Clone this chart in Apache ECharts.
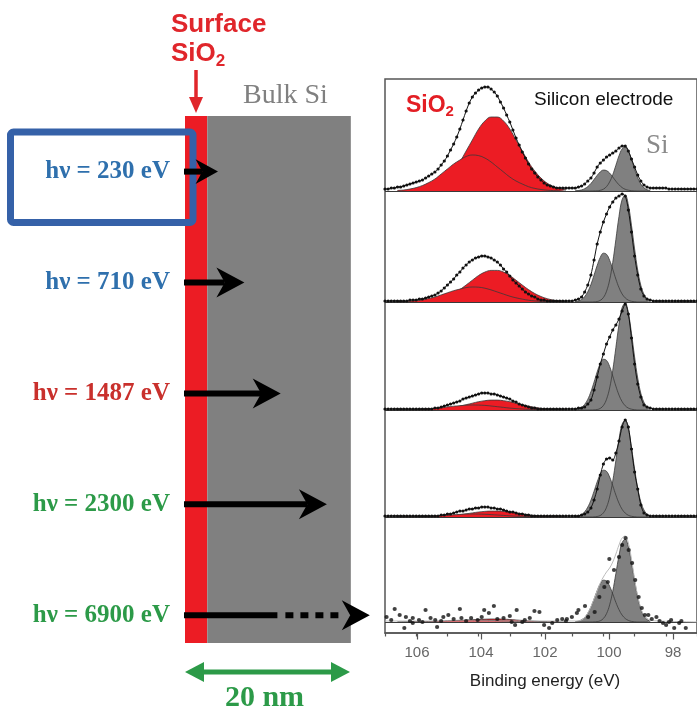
<!DOCTYPE html>
<html><head><meta charset="utf-8">
<script src="https://cdn.jsdelivr.net/npm/echarts@6/dist/echarts.min.js"></script>
<style>html,body{margin:0;padding:0;background:#fff}#c{width:697px;height:715px}</style>
</head><body><div id="c"></div>
<script>
// ---------- schematic data ----------
const photonEnergies = ['230', '710', '1487', '2300', '6900'];
const labelColors = ['#2f70ad', '#2f70ad', '#c9302c', '#2c9a48', '#2c9a48'];
const probeDepthNm = [4.0, 7.2, 11.6, 17.2, 22.4];
const solidDepthNm = [4.0, 7.2, 11.6, 17.2, 11.2];
const layerNames = ['SiO2', 'Bulk Si'];
const layerFromNm = [0, 2.7];
const layerToNm = [2.7, 20.1];
const layerColors = ['#ec1c24', '#808080'];
const scaleBarNm = [0, 20];

// ---------- spectra data (binding energy eV, intensity a.u.) ----------
const eEnv = [107.0,106.9,106.8,106.7,106.6,106.5,106.4,106.3,106.2,106.1,106.0,105.9,105.8,105.7,105.6,105.5,105.4,105.3,105.2,105.1,105.0,104.9,104.8,104.7,104.6,104.5,104.4,104.3,104.2,104.1,104.0,103.9,103.8,103.7,103.6,103.5,103.4,103.3,103.2,103.1,103.0,102.9,102.8,102.7,102.6,102.5,102.4,102.3,102.2,102.1,102.0,101.9,101.8,101.7,101.6,101.5,101.4,101.3,101.2,101.1,101.0,100.9,100.8,100.7,100.6,100.5,100.4,100.3,100.2,100.1,100.0,99.9,99.8,99.7,99.6,99.5,99.4,99.3,99.2,99.1,99.0,98.9,98.8,98.7,98.6,98.5,98.4,98.3,98.2,98.1,98.0,97.9,97.8,97.7,97.6,97.5,97.4,97.3,97.2,97.1,97.0];
const env230 = [2,2,3,3,4,4,5,6,7,8,9, 10,11,13,15,17,19,22,26,30,35, 41,47,54,62,71,80,88,94,98,101, 103,104,104,102,99,95,89,83,76,69, 61,53,46,39,33,27,22,18,14,11, 8,6,5,4,3,3,3,3,3,3, 3,4,5,7,10,13,18,24,28,31, 34,36,38,40,43,45,45,40,32,24, 16,10,6,4,3,3,3,3,3,3, 2,2,2,2,2,2,2,2,2,2];
const env710 = [1,1,1,1,1,1,1,1,2,2,2, 3,3,4,5,6,7,9,11,14,17, 20,23,27,30,34,37,40,42,44,45, 46,46,45,44,42,40,37,33,30,26, 22,19,16,13,10,8,6,5,3,2, 2,1,1,1,1,1,1,1,1,1, 2,3,5,10,17,27,42,58,70,80, 88,95,100,104,106,108,106,92,70,46, 27,13,6,3,2,1,1,1,1,1, 1,1,1,1,1,1,1,1,1,1];
const env1487 = [1,1,1,1,1,1,1,1,1,1,1, 1,1,1,1,1,2,2,3,4,5, 6,7,8,9,11,12,13,14,15,16, 17,17,17,16,16,15,14,13,12,11, 9,8,6,5,4,3,2,2,1,1, 1,1,1,1,1,1,1,1,1,1, 1,2,2,3,6,10,20,33,46,56, 66,73,80,85,91,99,106,96,72,46, 26,13,5,3,2,1,1,1,1,1, 1,1,1,1,1,1,1,1,1,1];
const env2300 = [1,1,1,1,1,1,1,1,1,1,1, 1,1,1,1,1,1,1,2,2,3, 3,4,5,6,6,7,8,8,9,9, 10,10,10,9,9,8,8,7,6,5, 5,4,3,3,2,2,1,1,1,1, 1,1,1,1,1,1,1,1,1,1, 1,1,2,3,5,9,17,28,42,53, 58,59,57,64,76,90,97,90,68,45, 28,12,4,2,1,1,1,1,1,1, 1,1,1,1,1,1,1,1,1,1];

const eSiO2 = [106.6,106.4,106.2,106.0,105.8,105.6,105.4,105.2,105.0,104.8,104.6,104.4,104.2,104.0,103.8,103.6,103.4,103.2,103.0,102.8,102.6,102.4,102.2,102.0,101.8,101.6,101.4,101.2];
const sio2Main230 = [0,0.1,0.3,0.6,1.2,2.4,4.5,7.8,13,20,29,40,51,62,70,74,74,70,62,51,40,29,20,13,7.8,4.5,2.4,1.2];
const sio2Side230 = [0.6,1,2,3.4,5.5,8.4,12,17,22,27,31,34.5,36,35.4,33,29,24,19,14,10,7,4.3,2.6,1.5,0.8,0.4,0.2,0];
const sio2Main710 = [0,0,0.1,0.3,0.5,1,1.9,3.3,5.5,8.5,12.4,17,21.8,26.5,29.9,31.6,31.6,29.9,26.5,21.8,17,12.4,8.5,5.5,3.3,1.9,1,0.5];
const sio2Side710 = [0.3,0.4,0.8,1.4,2.3,3.5,5,7.1,9.2,11.3,12.9,14.4,15,14.8,13.8,12.1,10,7.9,5.8,4.2,2.9,1.8,1.1,0.6,0.3,0.2,0.1,0];
const sio2Main1487 = [0,0,0,0.1,0.2,0.3,0.6,1,1.7,2.7,3.9,5.3,6.8,8.3,9.3,9.9,9.9,9.3,8.3,6.8,5.3,3.9,2.7,1.7,1,0.6,0.3,0.2];
const sio2Side1487 = [0.1,0.1,0.3,0.5,0.8,1.2,1.7,2.4,3.1,3.8,4.3,4.8,5,4.9,4.6,4,3.3,2.6,1.9,1.4,1,0.6,0.4,0.2,0.1,0.1,0,0];
const sio2Main2300 = [0,0,0,0,0.1,0.2,0.4,0.6,1,1.6,2.3,3.2,4.1,5,5.6,5.9,5.9,5.6,5,4.1,3.2,2.3,1.6,1,0.6,0.4,0.2,0.1];
const sio2Side2300 = [0,0.1,0.2,0.3,0.5,0.7,1,1.4,1.8,2.2,2.6,2.9,3,2.9,2.7,2.4,2,1.6,1.2,0.8,0.6,0.4,0.2,0.1,0.1,0,0,0];
const sio2Main6900 = [0,0,0,0,0,0.1,0.2,0.3,0.5,0.8,1.2,1.6,2,2.5,2.8,3,3,2.8,2.5,2,1.6,1.2,0.8,0.5,0.3,0.2,0.1,0];
const sio2Side6900 = [0,0.1,0.1,0.2,0.3,0.5,0.7,0.9,1.2,1.5,1.7,1.9,2,1.9,1.8,1.6,1.3,1,0.8,0.6,0.4,0.2,0.1,0.1,0];

const eSi = [100.9,100.8,100.7,100.6,100.5,100.4,100.3,100.2,100.1,100.0,99.9,99.8,99.7,99.6,99.5,99.4,99.3,99.2,99.1,99.0,98.9,98.8,98.7,98.6,98.5];
const siHigh230 = [0.2,0.5,1.1,2.3,4.4,7.5,11.5,15.6,19.1,20.9,20.4,17.9,14,9.8,6.2,3.4,1.7,0.8,0.3,0.1,0,0,0,0,0];
const siLow230 = [0,0,0,0,0,0,0.1,0.2,0.7,1.8,4.4,9.1,16.3,25.7,35.2,42.1,43.9,39.9,31.5,21.8,13.1,6.9,3.2,1.3,0.4];
const siHigh710 = [0.4,1.1,2.5,5.4,10.3,17.5,26.8,36.5,44.6,48.8,47.7,41.7,32.7,22.9,14.4,8,4.1,1.8,0.7,0.3,0,0,0,0,0];
const siLow710 = [0,0,0,0,0,0,0.1,0.5,1.6,4.5,10.7,22,39.7,62.5,85.6,102.4,106.7,96.9,76.7,53.1,31.9,16.7,7.7,3.1,1.1];
const siHigh1487 = [0.4,1.1,2.7,5.6,10.7,18.3,27.8,38,46.4,50.7,49.6,43.5,34,23.8,14.9,8.4,4.2,1.9,0.8,0.3,0,0,0,0,0];
const siLow1487 = [0,0,0,0,0,0,0.1,0.5,1.6,4.5,10.7,22,39.7,62.5,85.6,102.4,106.7,96.9,76.7,53.1,31.9,16.7,7.7,3.1,1.1];
const siHigh2300 = [0.4,1,2.4,5.2,9.9,16.8,25.7,35,42.8,46.8,45.7,40,31.3,21.9,13.8,7.7,3.9,1.7,0.7,0.3,0,0,0,0,0];
const siLow2300 = [0,0,0,0,0,0,0.1,0.5,1.5,4.1,9.7,20,36,56.6,77.6,92.8,96.7,87.9,69.5,48.1,28.9,15.1,7,2.8,1];
const siHigh6900 = [0.3,0.9,2.2,4.6,8.8,15,22.9,31.3,38.2,41.8,40.9,35.8,28,19.6,12.3,6.9,3.5,1.6,0.6,0.2,0,0,0,0,0];
const siLow6900 = [0,0,0,0,0,0,0.1,0.4,1.2,3.5,8.3,17.1,30.8,48.5,66.4,79.4,82.8,75.2,59.5,41.2,24.7,12.9,6,2.4,0.8];

// 6900 eV: noisy measured points and fit envelope
const pts6900E = [106.95,106.8,106.69,106.53,106.38,106.33,106.2,106.11,106.11,105.91,105.8,105.7,105.54,105.39,105.33,105.2,105.13,104.97,104.8,104.6,104.55,104.4,104.24,104.03,103.9,103.82,103.67,103.51,103.4,103.2,103.0,102.94,102.83,102.78,102.6,102.52,102.36,102.21,102.05,101.9,101.74,101.64,101.48,101.32,101.2,101.17,101.01,100.85,100.8,100.59,100.49,100.28,100.13,99.97,99.86,99.81,99.66,99.5,99.4,99.29,99.19,99.08,98.98,98.87,98.77,98.67,98.56,98.45,98.3,98.2,98.09,97.99,97.9,97.83,97.73,97.57,97.5,97.36];
const pts6900I = [5,2,13,7,-6,5,1,4,-1,2,0,12,4,2,-5,1,5,7,3,13,4,1,4,2,5,12,9,16,3,4,6,0,-3,12,0,2,4,11,10,-3,-6,-1,2,3,1,3,5,9,12,16,5,10,25,35,40,63,52,65,77,84,72,59,42,25,14,7,7,3,5,1,-1,-3,0,2,-6,-1,1,-6];
const fit6900E = [107.0,101.4,100.9,100.7,100.5,100.3,100.1,100.0,99.9,99.8,99.7,99.6,99.5,99.4,99.3,99.2,99.1,99.0,98.9,98.8,98.7,98.5,98.2,97.0];
const fit6900I = [1,1,1,2,9,23,39,45,50,54,60,68,77,84,86,79,63,43,26,14,7,2,1,0];

const panels = [
  {env: env230,  sMain: sio2Main230,  sSide: sio2Side230,  siH: siHigh230,  siL: siLow230},
  {env: env710,  sMain: sio2Main710,  sSide: sio2Side710,  siH: siHigh710,  siL: siLow710},
  {env: env1487, sMain: sio2Main1487, sSide: sio2Side1487, siH: siHigh1487, siL: siLow1487},
  {env: env2300, sMain: sio2Main2300, sSide: sio2Side2300, siH: siHigh2300, siL: siLow2300},
  {env: null,    sMain: sio2Main6900, sSide: sio2Side6900, siH: siHigh6900, siL: siLow6900}
];

// ---------- layout ----------
const PANEL_TOP = [81, 192, 300, 407, 512];
const PANEL_H = [110, 110, 110, 110, 120];
const PANEL_MIN = [0, 0, 0, 0, -10];
const LAYER_TOP = 116, LAYER_BOTTOM = 643, SCALE_Y = 672;
const RED = '#ec1c24', GRAY = '#808080', OUT = '#3a3a3a';
const pairs = (xs, ys) => ys.map((y, i) => [xs[i], y]);

const grids = [{left: 385, top: 79, width: 320, height: 554, show: true, borderColor: '#555', borderWidth: 1.5, backgroundColor: 'transparent'}];
const xAxes = [{gridIndex: 0, type: 'value', min: 97, max: 107, interval: 1, inverse: true,
  axisLine: {show: true, lineStyle: {color: '#555', width: 1.5}},
  axisTick: {show: true, length: 3.5, lineStyle: {color: '#555', width: 1.2}},
  axisLabel: {show: false}, splitLine: {show: false}}];
const yAxes = [{gridIndex: 0, type: 'value', show: false}];
const series = [];

panels.forEach((p, k) => {
  const gi = k + 1;
  grids.push({left: 385, width: 320, top: PANEL_TOP[k], height: PANEL_H[k]});
  xAxes.push({gridIndex: gi, type: 'value', min: 97, max: 107, inverse: true, show: false});
  yAxes.push({gridIndex: gi, type: 'value', min: PANEL_MIN[k], max: 110, show: false});
  const base = {type: 'line', xAxisIndex: gi, yAxisIndex: gi, symbol: 'none', smooth: 0.4, silent: true, animation: false};
  const area = (d, c, z) => Object.assign({}, base, {data: d, z, lineStyle: {width: 0}, areaStyle: {color: c, opacity: 1}});
  const line = (d, z) => Object.assign({}, base, {data: d, z, lineStyle: {color: OUT, width: 0.8}});
  const sM = pairs(eSiO2, p.sMain), sS = pairs(eSiO2, p.sSide);
  const sH = pairs(eSi, p.siH), sL = pairs(eSi, p.siL);
  series.push(area(sM, RED, 2), line(sM, 3), area(sS, RED, 4), line(sS, 5));
  series.push(area(sH, GRAY, 2), area(sL, GRAY, 2), line(sH, 5), line(sL, 5));
  const mark = {silent: true, symbol: 'none', label: {show: false}, animation: false,
    lineStyle: {color: '#3a3a3a', width: 1, type: 'solid'}, data: [{yAxis: 0}]};
  if (p.env) {
    series.push(Object.assign({}, base, {data: pairs(eEnv, p.env), z: 6, smooth: 0.3,
      symbol: 'circle', symbolSize: 3.2, showSymbol: true, itemStyle: {color: '#111'},
      lineStyle: {color: '#111', width: 1}, markLine: mark}));
  } else {
    series.push(Object.assign({}, base, {data: pairs(fit6900E, fit6900I), z: 6,
      lineStyle: {color: '#bbb', width: 1}, markLine: mark}));
    series.push({type: 'scatter', xAxisIndex: gi, yAxisIndex: gi, data: pairs(pts6900E, pts6900I),
      symbolSize: 4.2, itemStyle: {color: '#111'}, z: 7, silent: true, animation: false});
  }
});

// axis grid with the labelled binding-energy ticks
grids.push({left: 417, width: 256, top: 79, height: 554});
xAxes.push({gridIndex: 6, type: 'value', min: 98, max: 106, interval: 2, inverse: true,
  axisLine: {show: false}, splitLine: {show: false},
  axisTick: {show: true, length: 6.5, lineStyle: {color: '#555', width: 1.2}},
  axisLabel: {fontSize: 15, color: '#666', margin: 12, fontFamily: 'Liberation Sans'},
  name: 'Binding energy (eV)', nameLocation: 'middle', nameGap: 40,
  nameTextStyle: {fontSize: 17, color: '#222', fontFamily: 'Liberation Sans'}});
yAxes.push({gridIndex: 6, type: 'value', show: false});

// depth grid (schematic)
grids.push({left: 185, width: 165, top: 116.15, height: 554.5});
xAxes.push({gridIndex: 7, type: 'value', min: 0, max: 20, show: false});
const rich = {};
labelColors.forEach((c, i) => { rich['c' + i] = {color: c, fontFamily: 'Liberation Serif', fontWeight: 'bold', fontSize: 25}; });
yAxes.push({gridIndex: 7, type: 'category', data: photonEnergies, inverse: true,
  axisLine: {show: false}, axisTick: {show: false}, splitLine: {show: false},
  axisLabel: {margin: 15, formatter: (v, i) => '{c' + i + '|h\u03bd = ' + v + ' eV}', rich}});

series.push({type: 'custom', xAxisIndex: 7, yAxisIndex: 7, z: 1, silent: true, animation: false,
  encode: {x: [0, 1], y: 2},
  data: layerNames.map((n, i) => [layerFromNm[i], layerToNm[i], 0]),
  renderItem: (params, api) => {
    const x0 = api.coord([api.value(0), 0])[0], x1 = api.coord([api.value(1), 0])[0];
    return {type: 'rect', shape: {x: x0, y: LAYER_TOP, width: x1 - x0, height: LAYER_BOTTOM - LAYER_TOP},
      style: {fill: layerColors[params.dataIndex]}};
  }});

series.push({type: 'custom', xAxisIndex: 7, yAxisIndex: 7, z: 10, silent: true, animation: false,
  encode: {x: [0, 2], y: 1},
  data: photonEnergies.map((p, i) => [probeDepthNm[i], i, solidDepthNm[i]]),
  renderItem: (params, api) => {
    const tip = api.coord([api.value(0), api.value(1)]);
    const start = api.coord([0, api.value(1)]);
    const solid = api.coord([api.value(2), api.value(1)]);
    const len = tip[0] - start[0];
    const L = Math.min(28, len * 0.68), H = Math.min(15, L * 0.55), n = L * 0.3;
    const back = tip[0] - L + n, y = tip[1];
    const solidEnd = Math.min(solid[0], back);
    const ch = [{type: 'line', shape: {x1: start[0] - 1, y1: y, x2: solidEnd, y2: y}, style: {stroke: '#000', lineWidth: 6}}];
    if (solidEnd < back - 1) ch.push({type: 'line', shape: {x1: solidEnd + 8, y1: y, x2: back - 6, y2: y},
      style: {stroke: '#000', lineWidth: 6, lineDash: [8, 7]}});
    ch.push({type: 'polygon', shape: {points: [[tip[0], y], [tip[0] - L, y - H], [back, y], [tip[0] - L, y + H]]}, style: {fill: '#000'}});
    return {type: 'group', children: ch};
  }});

series.push({type: 'custom', xAxisIndex: 7, yAxisIndex: 7, z: 10, silent: true, animation: false,
  encode: {x: [0, 1], y: 2},
  data: [[scaleBarNm[0], scaleBarNm[1], 0]],
  renderItem: (params, api) => {
    const x0 = api.coord([api.value(0), 0])[0], x1 = api.coord([api.value(1), 0])[0];
    const G = '#2c9a48', y = SCALE_Y;
    return {type: 'group', children: [
      {type: 'line', shape: {x1: x0 + 12, y1: y, x2: x1 - 12, y2: y}, style: {stroke: G, lineWidth: 5}},
      {type: 'polygon', shape: {points: [[x0, y], [x0 + 19, y - 10], [x0 + 19, y + 10]]}, style: {fill: G}},
      {type: 'polygon', shape: {points: [[x1, y], [x1 - 19, y - 10], [x1 - 19, y + 10]]}, style: {fill: G}},
      {type: 'text', style: {text: (api.value(1) - api.value(0)) + ' nm', x: (x0 + x1) / 2 - 3, y: y + 26,
        font: 'bold 30px "Liberation Serif"', fill: G, align: 'center', verticalAlign: 'middle'}}
    ]};
  }});

const graphic = [
  {type: 'rect', z: 3, shape: {x: 10.5, y: 132, width: 182.5, height: 90.5, r: 3}, style: {fill: 'none', stroke: '#3561a8', lineWidth: 7}},
  {type: 'text', z: 3, style: {x: 171, y: 25, text: 'Surface', font: 'bold 26px "Liberation Sans"', fill: '#e0262b', verticalAlign: 'middle'}},
  {type: 'text', z: 3, style: {x: 171, y: 54, text: '{a|SiO}{b|2}', verticalAlign: 'middle',
    rich: {a: {fill: '#e0262b', fontSize: 26, fontWeight: 'bold', fontFamily: 'Liberation Sans'},
           b: {fill: '#e0262b', fontSize: 17, fontWeight: 'bold', fontFamily: 'Liberation Sans', padding: [14, 0, 0, 0]}}}},
  {type: 'line', z: 3, shape: {x1: 196, y1: 70, x2: 196, y2: 100}, style: {stroke: '#e0262b', lineWidth: 3.5}},
  {type: 'polygon', z: 3, shape: {points: [[189, 97], [203, 97], [196, 113]]}, style: {fill: '#e0262b'}},
  {type: 'text', z: 3, style: {x: 243, y: 96, text: 'Bulk Si', font: '28px "Liberation Serif"', fill: '#808080', verticalAlign: 'middle'}},
  {type: 'text', z: 8, style: {x: 406, y: 106, text: '{a|SiO}{b|2}', verticalAlign: 'middle',
    rich: {a: {fill: '#e31e24', fontSize: 23, fontWeight: 'bold', fontFamily: 'Liberation Sans'},
           b: {fill: '#e31e24', fontSize: 15, fontWeight: 'bold', fontFamily: 'Liberation Sans', padding: [12, 0, 0, 0]}}}},
  {type: 'text', z: 8, style: {x: 534, y: 100, text: 'Silicon electrode', font: '19px "Liberation Sans"', fill: '#111', verticalAlign: 'middle'}},
  {type: 'text', z: 8, style: {x: 646, y: 146, text: 'Si', font: '27px "Liberation Serif"', fill: '#8a8a8a', verticalAlign: 'middle'}}
];

const chart = echarts.init(document.getElementById('c'), null, {renderer: 'canvas'});
chart.setOption({animation: false, backgroundColor: '#fff', grid: grids, xAxis: xAxes, yAxis: yAxes, series, graphic});
</script></body></html>
